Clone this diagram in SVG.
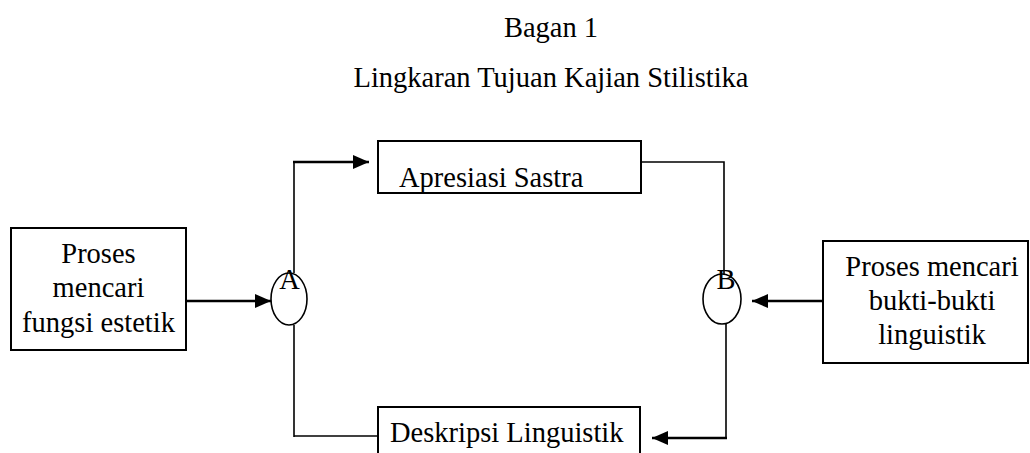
<svg xmlns="http://www.w3.org/2000/svg" width="1030" height="453" viewBox="0 0 1030 453">
<style>
text{font-family:"Liberation Serif","Times New Roman",serif;font-size:28.5px;fill:#000}
.box{fill:#fff;stroke:#000;stroke-width:2}
.thin{fill:none;stroke:#000;stroke-width:1.6}
.thick{fill:none;stroke:#000;stroke-width:2.6}
</style>
<defs>
<marker id="ah" markerUnits="userSpaceOnUse" markerWidth="16" markerHeight="14" refX="16" refY="7" orient="auto">
<path d="M0,0 L16,7 L0,14 z" fill="#000"/>
</marker>
</defs>
<rect width="1030" height="453" fill="#fff"/>
<g id="title">
<text x="551" y="37" text-anchor="middle">Bagan 1</text>
<text x="551" y="87" text-anchor="middle">Lingkaran Tujuan Kajian Stilistika</text>
</g>
<g id="connectors">
<line class="thick" x1="186" y1="301" x2="271" y2="301" marker-end="url(#ah)"/>
<line class="thin" x1="294" y1="273" x2="294" y2="162"/>
<line class="thick" x1="293" y1="162" x2="369" y2="162" marker-end="url(#ah)"/>
<path class="thin" d="M641,162 H724 V274"/>
<line class="thick" x1="823" y1="301" x2="752" y2="301" marker-end="url(#ah)"/>
<line class="thin" x1="726" y1="324" x2="726" y2="439"/>
<line class="thick" x1="727" y1="438" x2="652" y2="438" marker-end="url(#ah)"/>
<path class="thin" d="M294,325 V437"/>
<line class="thin" x1="294" y1="436" x2="378" y2="436"/>
</g>
<g id="node-proses-estetik">
<rect class="box" x="11" y="228" width="175" height="122"/>
<text x="98.5" y="263" text-anchor="middle">Proses</text>
<text x="98.5" y="297" text-anchor="middle">mencari</text>
<text x="98.5" y="332" text-anchor="middle">fungsi estetik</text>
</g>
<g id="node-A">
<ellipse class="thin" cx="289" cy="299" rx="18" ry="26" fill="none"/>
<text x="289.5" y="289" text-anchor="middle">A</text>
</g>
<g id="node-apresiasi">
<rect class="box" x="378" y="141" width="263" height="52"/>
<text x="399" y="187">Apresiasi Sastra</text>
</g>
<g id="node-B">
<ellipse class="thin" cx="722" cy="299" rx="19" ry="25" fill="none"/>
<text x="726" y="289" text-anchor="middle">B</text>
</g>
<g id="node-proses-linguistik">
<rect class="box" x="823" y="241" width="205" height="122"/>
<text x="932" y="276" text-anchor="middle">Proses mencari</text>
<text x="932" y="310" text-anchor="middle">bukti-bukti</text>
<text x="932" y="344" text-anchor="middle">linguistik</text>
</g>
<g id="node-deskripsi">
<rect class="box" x="378" y="407" width="262" height="60"/>
<text x="390" y="442">Deskripsi Linguistik</text>
</g>
</svg>
